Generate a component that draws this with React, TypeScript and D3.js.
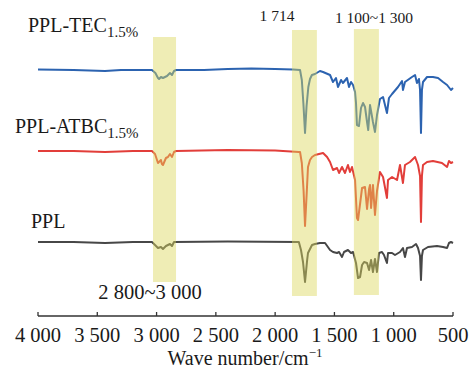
import React from "react";
import * as d3 from "d3";

// FTIR spectra: [wave number (cm-1), transmittance relative to the baseline]
const tecSpectrum: [number, number][] = [
  [4000, 0.5], [3700, 0], [3435, -1], [3300, 0], [3100, 0], [3039, 0], [3010, -3],
  [2988, -8], [2979, -9], [2963, -7], [2946, -8], [2912, -6], [2887, -3], [2870, -5],
  [2853, -1], [2836, 0], [2600, 0], [2400, 1], [2200, 1.5], [2000, 1], [1850, 0.5],
  [1790, 0], [1775, -10], [1762, -33], [1748, -63], [1735, -36], [1720, -17], [1706, -9],
  [1690, -5], [1664, -4], [1622, -1], [1596, -2], [1537, -5], [1512, -12], [1487, -8],
  [1470, -17], [1444, -10], [1428, -13], [1394, -8], [1377, -17], [1360, -12], [1343, -15],
  [1326, -22], [1318, -33], [1310, -55], [1293, -56], [1276, -38], [1259, -33], [1242, -37],
  [1225, -52], [1215, -60], [1200, -35], [1175, -52], [1158, -62], [1141, -45], [1116, -29],
  [1090, -27], [1057, -43], [1040, -28], [1014, -24], [964, -17], [930, -11], [922, -20],
  [905, -12], [846, -7], [820, -5], [804, -13], [787, -9], [778, -20], [770, -63],
  [762, -20], [753, -12], [719, -7], [669, -7], [626, -8], [584, -12], [550, -15],
  [517, -20], [500, -18],
];

const atbcSpectrum: [number, number][] = [
  [4000, 0], [3700, 0], [3435, -1], [3200, 0], [3039, 0], [3013, -3], [2988, -12],
  [2963, -9], [2955, -13], [2946, -14], [2921, -7], [2904, -6], [2887, -3], [2870, -6],
  [2853, -1], [2836, 0], [2400, 1], [2000, 0.5], [1800, -1], [1790, -1], [1775, -12],
  [1760, -40], [1748, -75], [1735, -45], [1723, -16], [1706, -9], [1689, -6], [1664, -4],
  [1596, -2], [1562, -6], [1537, -11], [1512, -19], [1478, -17], [1461, -22], [1436, -16],
  [1411, -22], [1386, -14], [1369, -21], [1352, -16], [1326, -29], [1310, -67], [1301, -69],
  [1267, -37], [1242, -36], [1225, -58], [1208, -38], [1200, -34], [1191, -57], [1175, -34],
  [1158, -64], [1141, -40], [1116, -21], [1090, -26], [1057, -47], [1048, -29], [1014, -26],
  [972, -29], [947, -14], [922, -32], [905, -14], [863, -11], [820, -6], [795, -14],
  [778, -25], [770, -71], [762, -25], [753, -14], [719, -11], [669, -10], [593, -12],
  [550, -16], [534, -10], [517, -12], [500, -11],
];

const pplSpectrum: [number, number][] = [
  [4000, 0], [3700, 0], [3435, -1], [3200, 0], [3039, 0], [3013, -3], [2988, -6],
  [2963, -5], [2946, -7], [2921, -4], [2887, -2], [2870, -4], [2853, 0], [2400, 0.5],
  [1800, 0], [1782, -8], [1765, -20], [1748, -40], [1730, -18], [1723, -11], [1689, -3],
  [1664, -2], [1622, -1], [1579, -1], [1537, -8], [1512, -10], [1478, -11], [1461, -10],
  [1436, -15], [1419, -10], [1386, -8], [1360, -11], [1343, -10], [1318, -21], [1301, -36],
  [1284, -35], [1267, -23], [1250, -20], [1225, -21], [1208, -28], [1191, -18], [1175, -30],
  [1158, -17], [1141, -30], [1124, -11], [1099, -10], [1082, -13], [1057, -21], [1048, -11],
  [1014, -11], [989, -13], [947, -10], [922, -6], [905, -15], [888, -6], [846, -5],
  [812, -2], [795, -6], [778, -14], [770, -38], [762, -14], [753, -8], [711, -5],
  [635, -4], [584, -5], [550, -6], [534, -1], [517, 0], [500, -1],
];

const seriesNames = ["PPL-TEC", "PPL-ATBC", "PPL"];
const seriesSub = ["1.5%", "1.5%", ""];
const seriesOffsets = [250, 169, 78];
const seriesColors = ["#2c63b0", "#e23e3a", "#474747"];
const spectra = [tecSpectrum, atbcSpectrum, pplSpectrum];

// highlighted regions: [from, to] wave number, [bottom, top] in transmittance units
const bands: { from: number; to: number; bottom: number; top: number }[] = [
  { from: 3030, to: 2836, bottom: 38, top: 283 },
  { from: 1858, to: 1648, bottom: 24, top: 290 },
  { from: 1336, to: 1125, bottom: 25, top: 291 },
];
const bandLabels = ["2 800~3 000", "1 714", "1 100~1 300"];

const xTicks = [4000, 3500, 3000, 2500, 2000, 1500, 1000, 500];
const fmt = (v: number) => (v >= 1000 ? `${Math.floor(v / 1000)} ${String(v % 1000).padStart(3, "0")}` : `${v}`);

const W = 474;
const H = 371;
const FONT = "'Liberation Serif', 'Times New Roman', serif";

export default function App() {
  const x = d3.scaleLinear().domain([4000, 500]).range([38, 453]);
  const y = d3.scaleLinear().domain([0, 300]).range([320, 20]);
  const axisY = 316;

  const lineFor = (off: number) =>
    d3
      .line<[number, number]>()
      .x((d) => x(d[0]))
      .y((d) => y(d[1] + off));

  return (
    <svg width={W} height={H} style={{ position: "absolute", left: 0, top: 0, background: "#fff" }} fontFamily={FONT}>
      {spectra.map((s, i) => (
        <path key={i} d={lineFor(seriesOffsets[i])(s) ?? ""} fill="none" stroke={seriesColors[i]} strokeWidth={2} strokeLinejoin="round" />
      ))}
      {bands.map((b, i) => (
        <rect
          key={i}
          x={x(b.from)}
          y={y(b.top)}
          width={x(b.to) - x(b.from)}
          height={y(b.bottom) - y(b.top)}
          fill="rgb(220,214,92)"
          fillOpacity={0.45}
        />
      ))}

      {/* series labels */}
      <text x={28} y={32} fontSize={20} fill="#1a1a1a">
        {seriesNames[0]}
        <tspan fontSize={15} dy={5}>{seriesSub[0]}</tspan>
      </text>
      <text x={15} y={133} fontSize={20} fill="#1a1a1a">
        {seriesNames[1]}
        <tspan fontSize={15} dy={5}>{seriesSub[1]}</tspan>
      </text>
      <text x={31} y={228} fontSize={20} fill="#1a1a1a">
        {seriesNames[2]}
      </text>

      {/* band annotations */}
      <text x={150} y={299} fontSize={20.5} textAnchor="middle" fill="#1a1a1a">{bandLabels[0]}</text>
      <text x={277} y={21} fontSize={15.5} textAnchor="middle" fill="#1a1a1a">{bandLabels[1]}</text>
      <text x={374} y={23} fontSize={15.5} textAnchor="middle" fill="#1a1a1a">{bandLabels[2]}</text>

      {/* x axis */}
      <line x1={x(4000)} x2={x(500)} y1={axisY} y2={axisY} stroke="#333" strokeWidth={1.3} />
      {xTicks.map((t) => (
        <g key={t}>
          <line x1={x(t)} x2={x(t)} y1={axisY} y2={axisY - 4} stroke="#333" strokeWidth={1.3} />
          <text x={x(t)} y={342} fontSize={20.5} textAnchor="middle" fill="#1a1a1a">{fmt(t)}</text>
        </g>
      ))}
      <text x={245} y={365} fontSize={20} textAnchor="middle" fill="#1a1a1a">
        Wave number/cm
        <tspan fontSize={13} dy={-8}>−1</tspan>
      </text>
    </svg>
  );
}
